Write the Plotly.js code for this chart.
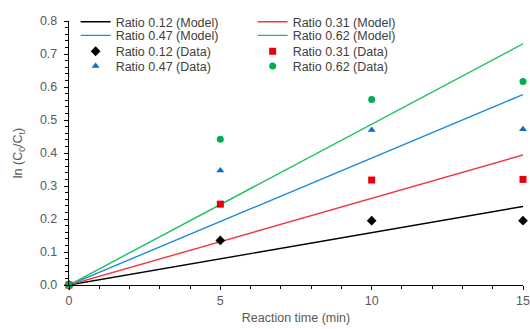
<!DOCTYPE html>
<html><head><meta charset="utf-8">
<script src="https://cdn.plot.ly/plotly-3.0.1.min.js"></script>
<style>html,body{margin:0;padding:0;background:#fff}</style>
</head><body><div id="chart" style="width:530px;height:329px"></div>
<script>
const modelTime = [0, 15];
const model012 = [0, 0.238];
const model031 = [0, 0.394];
const model047 = [0, 0.577];
const model062 = [0, 0.731];
const dataTime = [0, 5, 10, 15];
const data012 = [0, 0.135, 0.195, 0.195];
const data031 = [0, 0.245, 0.318, 0.320];
const data047 = [0, 0.347, 0.470, 0.472];
const data062 = [0, 0.442, 0.562, 0.617];
const names = ['Ratio 0.12', 'Ratio 0.31', 'Ratio 0.47', 'Ratio 0.62'];
const colors = ['#000000', '#f0383d', '#1f8ad6', '#19c15a'];
const markerColors = ['#000000', '#e8000b', '#0a6fc2', '#00b050'];
const symbols = ['diamond', 'square', 'triangle-up', 'circle'];
const sizes = [7.5, 7, 7, 7];
const models = [model012, model031, model047, model062];
const datas = [data012, data031, data047, data062];
// legend rows: [0.12,0.31] model, [0.47,0.62] model, [0.12,0.31] data, [0.47,0.62] data
const modelLegend = ['legend', 'legend', 'legend2', 'legend2'];
const dataLegend = ['legend3', 'legend3', 'legend4', 'legend4'];

const traces = [];
for (let i = 0; i < 4; i++) {
  traces.push({x: modelTime, y: models[i], mode: 'lines', name: names[i] + ' (Model)',
    legend: modelLegend[i], line: {color: colors[i], width: 1.4}, cliponaxis: false});
}
for (let i = 0; i < 4; i++) {
  traces.push({x: dataTime, y: datas[i], mode: 'markers', name: names[i] + ' (Data)',
    legend: dataLegend[i],
    marker: {color: markerColors[i], symbol: symbols[i], size: sizes[i]}, cliponaxis: false});
}
const fam = 'Liberation Sans, Arial, sans-serif';
const tickFont = {family: fam, size: 12.5, color: '#595959'};
function leg(y) {
  return {orientation: 'h', x: 0.0146, xanchor: 'left', y: y, yanchor: 'middle',
    entrywidth: 132, entrywidthmode: 'pixels',
    font: {family: fam, size: 12.5, color: '#404040'},
    bgcolor: 'rgba(0,0,0,0)'};
}
const layout = {
  width: 530, height: 329,
  margin: {l: 69, r: 7, t: 19, b: 44},
  paper_bgcolor: '#fff', plot_bgcolor: '#fff',
  showlegend: true,
  legend: leg(0.996), legend2: leg(0.944), legend3: leg(0.884), legend4: leg(0.828),
  xaxis: {range: [0, 15], tickvals: [0, 5, 10, 15], ticktext: ['0', '5', '10', '15'],
    showgrid: false, zeroline: false, showline: true, linecolor: '#000', linewidth: 1.2,
    ticks: 'outside', ticklen: 4, tickcolor: '#000',
    minor: {dtick: 1, ticks: 'outside', ticklen: 3, tickcolor: '#000', showgrid: false},
    tickfont: tickFont,
    title: {text: 'Reaction time (min)', font: tickFont, standoff: 6}},
  yaxis: {range: [0, 0.8], dtick: 0.1, tickformat: '.1f',
    showgrid: false, zeroline: false, showline: true, linecolor: '#000', linewidth: 1.2,
    ticks: 'outside', ticklen: 4, tickcolor: '#000', ticklabelstandoff: 4,
    minor: {dtick: 0.02, ticks: 'outside', ticklen: 3, tickcolor: '#000', showgrid: false},
    tickfont: tickFont,
    title: {text: 'ln (C<sub>0</sub>/C<sub>t</sub>)', font: tickFont, standoff: 14}}
};
Plotly.newPlot('chart', traces, layout, {displayModeBar: false, staticPlot: true});
</script></body></html>
